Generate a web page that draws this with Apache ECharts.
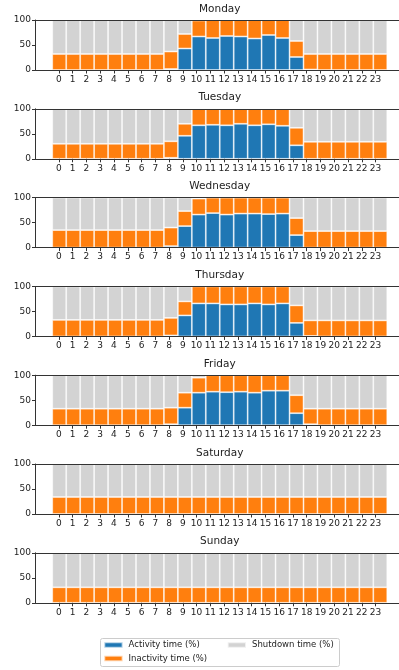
<!DOCTYPE html>
<html>
<head>
<meta charset="utf-8">
<title>Weekly machine time breakdown</title>
<script src="https://cdn.jsdelivr.net/npm/echarts@6/dist/echarts.min.js"></script>
<style>
  html, body { margin: 0; padding: 0; background: #fff; }
  #chart { width: 399px; height: 670px; }
</style>
</head>
<body>
<div id="chart"></div>
<script>
// Hours of the day (x categories) and day panels
const hours = [0, 1, 2, 3, 4, 5, 6, 7, 8, 9, 10, 11, 12, 13, 14, 15, 16, 17, 18, 19, 20, 21, 22, 23];
const days = ['Monday', 'Tuesday', 'Wednesday', 'Thursday', 'Friday', 'Saturday', 'Sunday'];
const yTicks = [0, 50, 100];

// Share of each hour, in percent
const monActivity   = [0, 0, 0, 0, 0, 0, 0, 0, 2, 43, 67, 64, 68, 67, 63, 70, 64, 26, 1, 0, 0, 0, 0, 0];
const monInactivity = [32, 32, 32, 32, 32, 32, 32, 32, 35, 29, 32, 36, 32, 33, 37, 30, 36, 32, 31, 32, 32, 32, 32, 32];
const monShutdown   = [68, 68, 68, 68, 68, 68, 68, 68, 63, 28, 1, 0, 0, 0, 0, 0, 0, 42, 68, 68, 68, 68, 68, 68];

const tueActivity   = [0, 0, 0, 0, 0, 0, 0, 0, 2, 46, 67, 68, 67, 70, 67, 69, 66, 27, 0, 0, 0, 0, 0, 0];
const tueInactivity = [30, 30, 30, 30, 30, 30, 30, 30, 33, 24, 33, 32, 33, 30, 33, 31, 34, 35, 34, 34, 34, 34, 34, 34];
const tueShutdown   = [70, 70, 70, 70, 70, 70, 70, 70, 65, 30, 0, 0, 0, 0, 0, 0, 0, 38, 66, 66, 66, 66, 66, 66];

const wedActivity   = [0, 0, 0, 0, 0, 0, 0, 0, 3, 43, 66, 69, 66, 68, 68, 67, 68, 25, 0, 0, 0, 0, 0, 0];
const wedInactivity = [35, 35, 35, 35, 35, 35, 35, 35, 37, 30, 32, 31, 34, 32, 32, 33, 32, 34, 33, 33, 33, 33, 33, 33];
const wedShutdown   = [65, 65, 65, 65, 65, 65, 65, 65, 60, 27, 2, 0, 0, 0, 0, 0, 0, 41, 67, 67, 67, 67, 67, 67];

const thuActivity   = [0, 0, 0, 0, 0, 0, 0, 0, 2, 42, 66, 66, 64, 64, 66, 64, 66, 27, 1, 0, 0, 0, 0, 0];
const thuInactivity = [33, 33, 33, 33, 33, 33, 33, 33, 35, 28, 34, 34, 36, 36, 34, 36, 34, 35, 31, 32, 32, 32, 32, 32];
const thuShutdown   = [67, 67, 67, 67, 67, 67, 67, 67, 63, 30, 0, 0, 0, 0, 0, 0, 0, 38, 68, 68, 68, 68, 68, 68];

const friActivity   = [0, 0, 0, 0, 0, 0, 0, 0, 2, 35, 65, 67, 66, 67, 65, 69, 69, 24, 2, 0, 0, 0, 0, 0];
const friInactivity = [33, 33, 33, 33, 33, 33, 33, 33, 33, 30, 30, 33, 34, 33, 35, 31, 31, 36, 31, 33, 33, 33, 33, 33];
const friShutdown   = [67, 67, 67, 67, 67, 67, 67, 67, 65, 35, 5, 0, 0, 0, 0, 0, 0, 40, 67, 67, 67, 67, 67, 67];

const satActivity   = [0, 0, 0, 0, 0, 0, 0, 0, 0, 0, 0, 0, 0, 0, 0, 0, 0, 0, 0, 0, 0, 0, 0, 0];
const satInactivity = [34, 34, 34, 34, 34, 34, 34, 34, 34, 34, 34, 34, 34, 34, 34, 34, 34, 34, 34, 34, 34, 34, 34, 34];
const satShutdown   = [66, 66, 66, 66, 66, 66, 66, 66, 66, 66, 66, 66, 66, 66, 66, 66, 66, 66, 66, 66, 66, 66, 66, 66];

const sunActivity   = [0, 0, 0, 0, 0, 0, 0, 0, 0, 0, 0, 0, 0, 0, 0, 0, 0, 0, 0, 0, 0, 0, 0, 0];
const sunInactivity = [31, 31, 31, 31, 31, 31, 31, 31, 31, 31, 31, 31, 31, 31, 31, 31, 31, 31, 31, 31, 31, 31, 31, 31];
const sunShutdown   = [69, 69, 69, 69, 69, 69, 69, 69, 69, 69, 69, 69, 69, 69, 69, 69, 69, 69, 69, 69, 69, 69, 69, 69];

const seriesNames = ['Activity time (%)', 'Inactivity time (%)', 'Shutdown time (%)'];
const seriesColors = ['#1f77b4', '#ff7f0e', '#d3d3d3'];

const dayData = [
  [monActivity, monInactivity, monShutdown],
  [tueActivity, tueInactivity, tueShutdown],
  [wedActivity, wedInactivity, wedShutdown],
  [thuActivity, thuInactivity, thuShutdown],
  [friActivity, friInactivity, friShutdown],
  [satActivity, satInactivity, satShutdown],
  [sunActivity, sunInactivity, sunShutdown]
];

// Layout
const FONT = 'DejaVu Sans';
const AXIS_COLOR = '#333';
const TEXT_COLOR = '#222';
const X_MIN = -1.7, X_MAX = 24.7;          // frame range in hour units (bars span -0.5 .. 23.5)
const PLOT_LEFT = 35.5, PLOT_RIGHT_EDGE = 404;   // right side runs past the canvas edge
const PANEL_TOP0 = 20, PANEL_STEP = 88.8, PANEL_H = 50;
const unitPx = (PLOT_RIGHT_EDGE - PLOT_LEFT) / (X_MAX - X_MIN);
const BAR_LEFT = PLOT_LEFT + (-0.5 - X_MIN) * unitPx;
const BAR_RIGHT = PLOT_LEFT + (23.5 - X_MIN) * unitPx;

const chart = echarts.init(document.getElementById('chart'), null, { renderer: 'canvas' });

const grids = [], xAxes = [], yAxes = [], series = [], graphics = [];

days.forEach((day, i) => {
  const top = PANEL_TOP0 + i * PANEL_STEP;

  // frame grid: spines, ticks and labels
  grids.push({ left: PLOT_LEFT, right: 399 - PLOT_RIGHT_EDGE, top: top, height: PANEL_H });
  // bar grid: one category slot per hour
  grids.push({ left: BAR_LEFT, right: 399 - BAR_RIGHT, top: top, height: PANEL_H });

  const frameGrid = 2 * i, barGrid = 2 * i + 1;

  xAxes.push({
    type: 'value', gridIndex: frameGrid, min: X_MIN, max: X_MAX, position: 'bottom', z: 5,
    axisLine: { show: true, onZero: false, lineStyle: { color: AXIS_COLOR, width: 1 } },
    axisTick: { show: true, length: 3.5, customValues: hours, lineStyle: { color: AXIS_COLOR, width: 1 } },
    axisLabel: { show: true, customValues: hours, fontSize: 9, color: TEXT_COLOR, fontFamily: FONT, margin: 5 },
    splitLine: { show: false }
  });
  xAxes.push({
    type: 'value', gridIndex: frameGrid, min: X_MIN, max: X_MAX, position: 'top', z: 5,
    axisLine: { show: true, onZero: false, lineStyle: { color: AXIS_COLOR, width: 1 } },
    axisTick: { show: false }, axisLabel: { show: false }, splitLine: { show: false }
  });
  xAxes.push({
    type: 'category', gridIndex: barGrid, data: hours, boundaryGap: true, show: false
  });

  yAxes.push({
    type: 'value', gridIndex: frameGrid, min: 0, max: 100, interval: 50, z: 5,
    axisLine: { show: true, onZero: false, lineStyle: { color: AXIS_COLOR, width: 1 } },
    axisTick: { show: true, length: 3.5, lineStyle: { color: AXIS_COLOR, width: 1 } },
    axisLabel: { show: true, fontSize: 9, color: TEXT_COLOR, fontFamily: FONT, margin: 4.5, customValues: yTicks },
    splitLine: { show: false }
  });
  yAxes.push({
    type: 'value', gridIndex: barGrid, min: 0, max: 100, show: false, splitLine: { show: false }
  });

  dayData[i].forEach((values, k) => {
    series.push({
      type: 'bar',
      name: seriesNames[k],
      xAxisIndex: 3 * i + 2,
      yAxisIndex: 2 * i + 1,
      stack: 'day' + i,
      barWidth: '100%',
      barCategoryGap: '0%',
      color: seriesColors[k],
      itemStyle: { color: seriesColors[k], borderColor: 'rgba(255,255,255,0.65)', borderWidth: 0.8 },
      emphasis: { disabled: true },
      silent: true,
      data: values
    });
  });

  graphics.push({
    type: 'text',
    x: (PLOT_LEFT + PLOT_RIGHT_EDGE) / 2,
    y: top - 11.2,
    style: { text: day, align: 'center', verticalAlign: 'middle', fontSize: 10.5, fontFamily: FONT, fill: TEXT_COLOR }
  });
});

// legend frame
graphics.push({
  type: 'rect',
  shape: { x: 100.5, y: 638.5, width: 239, height: 28, r: 2 },
  style: { fill: 'rgba(255,255,255,0.8)', stroke: '#ccc', lineWidth: 1 },
  z: -1
});

const legendText = { fontSize: 8.5, color: TEXT_COLOR, fontFamily: FONT, lineHeight: 12, padding: [0, 0, 0, 1] };

chart.setOption({
  animation: false,
  grid: grids,
  xAxis: xAxes,
  yAxis: yAxes,
  series: series,
  graphic: graphics,
  legend: [
    {
      data: [seriesNames[0], seriesNames[1]],
      orient: 'vertical', left: 103.3, top: 639, padding: 0, itemGap: 1.5,
      icon: 'rect', itemWidth: 18.3, itemHeight: 5.5, selectedMode: false,
      textStyle: legendText
    },
    {
      data: [seriesNames[2]],
      orient: 'vertical', left: 226.7, top: 639, padding: 0, itemGap: 1.5,
      icon: 'rect', itemWidth: 18.3, itemHeight: 5.5, selectedMode: false,
      textStyle: legendText
    }
  ]
});
</script>
</body>
</html>
